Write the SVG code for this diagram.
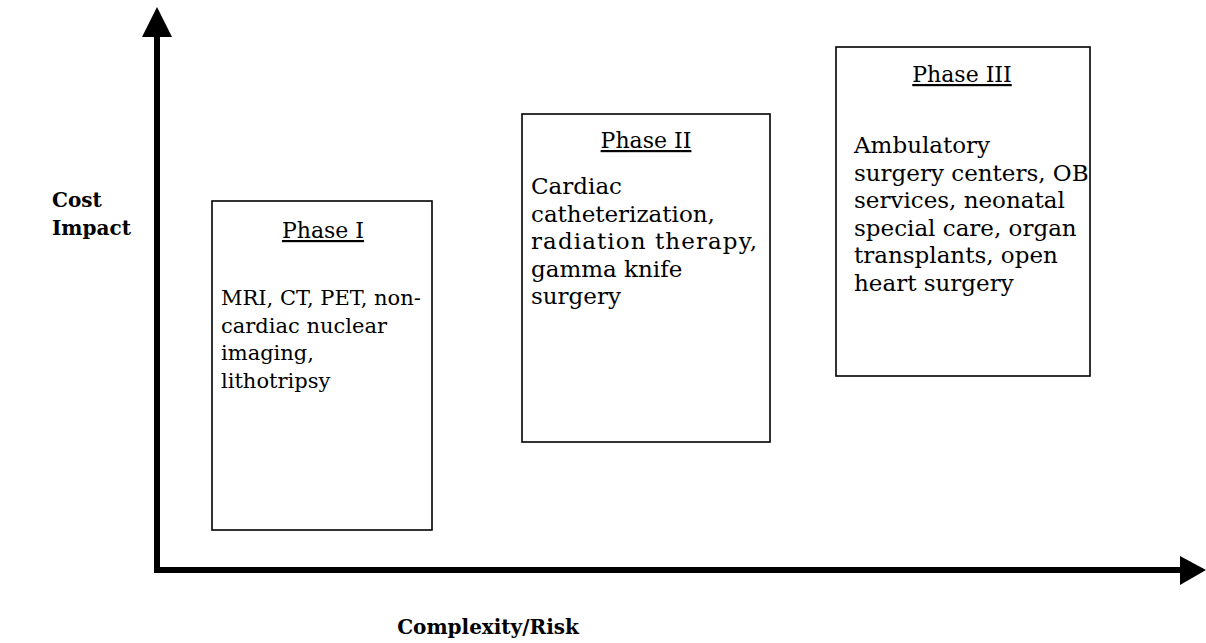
<svg xmlns="http://www.w3.org/2000/svg" width="1206" height="643" viewBox="0 0 1206 643">
<style>
.box{fill:none;stroke:#000;stroke-width:1.6}
.t{font-family:"DejaVu Serif","Liberation Serif",serif;font-size:23px;fill:#000}
.t1{font-family:"DejaVu Serif","Liberation Serif",serif;font-size:21px;fill:#000}
.h{font-family:"DejaVu Serif","Liberation Serif",serif;font-size:22px;fill:#000;text-anchor:middle;text-decoration:underline}
.ax{font-family:"DejaVu Serif","Liberation Serif",serif;font-size:20px;font-weight:bold;fill:#000}
.axis{stroke:#000;stroke-width:6;fill:none}
</style>
<rect width="1206" height="643" fill="#fff"/>
<g id="axes">
<line class="axis" x1="157" y1="573" x2="157" y2="34"/>
<polygon points="157,7 142,37 172,37" fill="#000"/>
<line class="axis" x1="154" y1="570" x2="1182" y2="570"/>
<polygon points="1206,570 1180,556 1180,585" fill="#000"/>
</g>
<g id="labels">
<text class="ax" x="52" y="207">Cost</text>
<text class="ax" x="52" y="235">Impact</text>
<text class="ax" x="488" y="634" text-anchor="middle">Complexity/Risk</text>
</g>
<g id="phase1">
<rect class="box" x="212" y="201" width="220" height="329"/>
<text class="h" x="323" y="238">Phase I</text>
<text class="t1" x="221" y="305">MRI, CT, PET, non-</text>
<text class="t1" x="221" y="333">cardiac nuclear</text>
<text class="t1" x="221" y="360">imaging,</text>
<text class="t1" x="221" y="388">lithotripsy</text>
</g>
<g id="phase2">
<rect class="box" x="522" y="114" width="248" height="328"/>
<text class="h" x="646" y="148">Phase II</text>
<text class="t" x="531" y="194">Cardiac</text>
<text class="t" x="531" y="222">catheterization,</text>
<text class="t" x="531" y="249" textLength="226" lengthAdjust="spacing">radiation therapy,</text>
<text class="t" x="531" y="277">gamma knife</text>
<text class="t" x="531" y="304">surgery</text>
</g>
<g id="phase3">
<rect class="box" x="836" y="47" width="254" height="329"/>
<text class="h" x="962" y="82">Phase III</text>
<text class="t" x="854" y="153">Ambulatory</text>
<text class="t" x="854" y="181">surgery centers, OB</text>
<text class="t" x="854" y="208">services, neonatal</text>
<text class="t" x="854" y="236">special care, organ</text>
<text class="t" x="854" y="263">transplants, open</text>
<text class="t" x="854" y="291">heart surgery</text>
</g>
</svg>
